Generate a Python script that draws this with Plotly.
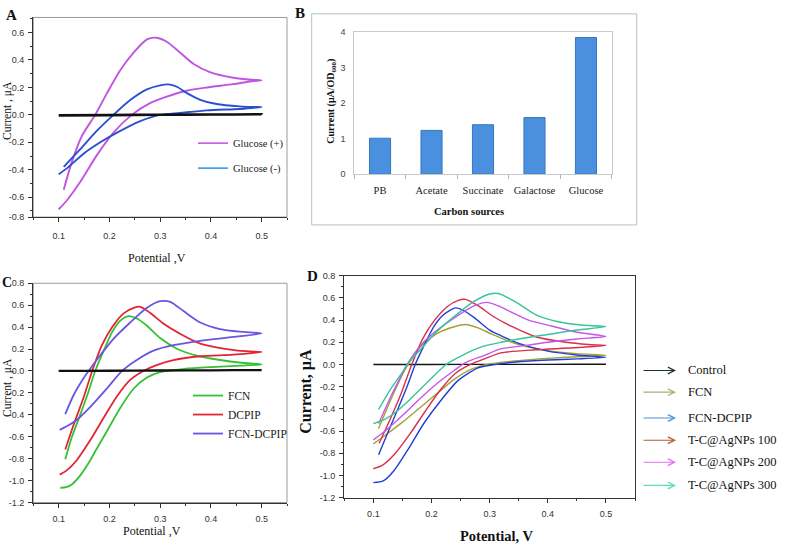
import plotly.graph_objects as go

W, H = 787, 551


def px(x):
    return x / W


def py(y):
    return 1 - y / H


SERIF = "Liberation Serif, Times New Roman, serif"
SANS = "Liberation Sans, Arial, sans-serif"

# ---------------- Panel A : CV, glucose (+) / (-) ----------------
A_GLU_POS_V = [0.110, 0.126, 0.146, 0.172, 0.195, 0.221, 0.248, 0.274, 0.293, 0.313, 0.339, 0.366,
               0.398, 0.444, 0.480, 0.500, 0.480, 0.444, 0.392, 0.352, 0.313, 0.280, 0.244, 0.208,
               0.175, 0.143, 0.116, 0.100]
A_GLU_POS_I = [-0.545, -0.343, -0.152, 0.000, 0.157, 0.324, 0.455, 0.550, 0.562, 0.533, 0.455, 0.371,
               0.312, 0.271, 0.256, 0.252, 0.245, 0.224, 0.200, 0.176, 0.133, 0.086, 0.000, -0.129,
               -0.295, -0.486, -0.624, -0.688]
A_GLU_NEG_V = [0.110, 0.143, 0.175, 0.208, 0.241, 0.274, 0.300, 0.316, 0.333, 0.352, 0.379, 0.411,
               0.457, 0.485, 0.500, 0.485, 0.457, 0.392, 0.339, 0.300, 0.261, 0.215, 0.182, 0.149,
               0.116, 0.100]
A_GLU_NEG_I = [-0.379, -0.248, -0.117, 0.000, 0.108, 0.186, 0.215, 0.222, 0.205, 0.160, 0.110, 0.079,
               0.062, 0.058, 0.057, 0.052, 0.043, 0.033, 0.014, 0.000, -0.045, -0.129, -0.200, -0.283,
               -0.390, -0.433]
A_CTRL_V = [0.10, 0.20, 0.30, 0.40, 0.50, 0.40, 0.30, 0.20, 0.10]
A_CTRL_I = [-0.004, -0.002, 0.000, 0.002, 0.004, 0.003, 0.001, -0.001, -0.003]
A_Y_TICKVALS = [-0.745, -0.6, -0.4, -0.2, 0.0, 0.2, 0.4, 0.6]
A_Y_TICKTEXT = ["-0.8", "-0.6", "-0.4", "-0.2", "0.0", "0.2", "0.4", "0.6"]

# ---------------- Panel B : bar chart ----------------
B_CATEGORIES = ["PB", "Acetate", "Succinate", "Galactose", "Glucose"]
B_VALUES = [1.01, 1.23, 1.39, 1.59, 3.84]

# ---------------- Panel C : CV, mediators ----------------
C_FCN_V = [0.113, 0.126, 0.143, 0.159, 0.172, 0.189, 0.205, 0.221, 0.238, 0.254, 0.274, 0.300, 0.333,
           0.372, 0.418, 0.460, 0.500, 0.460, 0.400, 0.350, 0.300, 0.274, 0.248, 0.221, 0.195, 0.175,
           0.159, 0.143, 0.126, 0.115, 0.103]
C_FCN_I = [-0.806, -0.603, -0.394, -0.185, 0.000, 0.188, 0.352, 0.457, 0.500, 0.478, 0.412, 0.300, 0.203,
           0.140, 0.100, 0.075, 0.060, 0.048, 0.035, 0.020, -0.010, -0.060, -0.160, -0.340, -0.550, -0.710,
           -0.840, -0.950, -1.035, -1.060, -1.066]
C_DCPIP_V = [0.113, 0.130, 0.149, 0.166, 0.185, 0.205, 0.228, 0.248, 0.261, 0.280, 0.307, 0.339, 0.379,
             0.431, 0.470, 0.500, 0.444, 0.379, 0.326, 0.293, 0.267, 0.241, 0.215, 0.189, 0.162, 0.136,
             0.116, 0.102]
C_DCPIP_I = [-0.716, -0.484, -0.245, 0.000, 0.233, 0.397, 0.525, 0.576, 0.585, 0.531, 0.430, 0.340, 0.250,
             0.200, 0.180, 0.173, 0.149, 0.134, 0.099, 0.054, 0.000, -0.081, -0.230, -0.424, -0.633, -0.812,
             -0.907, -0.946]
C_MIX_V = [0.113, 0.130, 0.149, 0.159, 0.182, 0.208, 0.241, 0.274, 0.300, 0.320, 0.346, 0.379, 0.418,
           0.457, 0.500, 0.444, 0.379, 0.326, 0.287, 0.254, 0.225, 0.195, 0.162, 0.136, 0.116, 0.102]
C_MIX_I = [-0.394, -0.215, -0.066, 0.000, 0.143, 0.293, 0.442, 0.576, 0.636, 0.630, 0.546, 0.442, 0.382,
           0.358, 0.343, 0.310, 0.275, 0.235, 0.185, 0.100, 0.000, -0.160, -0.330, -0.445, -0.505, -0.537]
C_CTRL_V = [0.10, 0.20, 0.30, 0.40, 0.50, 0.40, 0.30, 0.20, 0.10]
C_CTRL_I = [0.000, 0.002, 0.004, 0.006, 0.008, 0.006, 0.004, 0.002, 0.000]

# ---------------- Panel D : CV, AgNPs ----------------
D_CTRL_V = [0.10, 0.20, 0.30, 0.40, 0.50, 0.40, 0.30, 0.20, 0.10]
D_CTRL_I = [0.000, 0.000, 0.001, 0.001, 0.002, 0.001, 0.001, 0.000, 0.000]
D_FCN_V = [0.109, 0.129, 0.152, 0.160, 0.181, 0.210, 0.239, 0.259, 0.280, 0.303, 0.330, 0.360, 0.400,
           0.450, 0.500, 0.450, 0.400, 0.350, 0.300, 0.270, 0.240, 0.210, 0.180, 0.150, 0.120, 0.100]
D_FCN_I = [-0.577, -0.330, -0.070, 0.000, 0.160, 0.280, 0.340, 0.360, 0.330, 0.275, 0.215, 0.165, 0.125,
           0.098, 0.083, 0.070, 0.055, 0.035, 0.005, -0.040, -0.130, -0.260, -0.390, -0.520, -0.640, -0.716]
D_MIX_V = [0.109, 0.126, 0.143, 0.159, 0.172, 0.189, 0.205, 0.221, 0.241, 0.254, 0.274, 0.300, 0.319,
           0.350, 0.400, 0.450, 0.500, 0.450, 0.400, 0.350, 0.303, 0.280, 0.245, 0.216, 0.187, 0.158,
           0.135, 0.117, 0.100]
D_MIX_I = [-0.814, -0.600, -0.390, -0.185, 0.000, 0.190, 0.350, 0.450, 0.510, 0.490, 0.420, 0.310, 0.260,
           0.190, 0.120, 0.085, 0.065, 0.050, 0.040, 0.025, -0.006, -0.030, -0.148, -0.325, -0.530, -0.780,
           -0.960, -1.050, -1.065]
D_AG100_V = [0.110, 0.130, 0.149, 0.166, 0.185, 0.205, 0.228, 0.245, 0.258, 0.280, 0.307, 0.339, 0.379,
             0.431, 0.470, 0.500, 0.444, 0.379, 0.319, 0.293, 0.267, 0.241, 0.215, 0.189, 0.162, 0.136,
             0.116, 0.100]
D_AG100_I = [-0.710, -0.480, -0.245, 0.000, 0.233, 0.397, 0.525, 0.575, 0.587, 0.530, 0.430, 0.340, 0.250,
             0.200, 0.180, 0.172, 0.150, 0.132, 0.104, 0.054, 0.000, -0.081, -0.230, -0.424, -0.633, -0.812,
             -0.907, -0.940]
D_AG200_V = [0.109, 0.129, 0.152, 0.158, 0.181, 0.210, 0.245, 0.274, 0.295, 0.314, 0.338, 0.367, 0.400,
             0.450, 0.500, 0.450, 0.400, 0.360, 0.319, 0.290, 0.260, 0.240, 0.210, 0.180, 0.150, 0.120,
             0.100]
D_AG200_I = [-0.533, -0.300, -0.060, 0.000, 0.170, 0.310, 0.440, 0.530, 0.560, 0.530, 0.470, 0.400, 0.355,
             0.290, 0.252, 0.230, 0.200, 0.170, 0.140, 0.080, 0.020, -0.050, -0.170, -0.310, -0.460, -0.600,
             -0.680]
D_AG300_V = [0.109, 0.130, 0.150, 0.158, 0.182, 0.208, 0.241, 0.274, 0.300, 0.315, 0.346, 0.379, 0.418,
             0.457, 0.500, 0.450, 0.400, 0.350, 0.319, 0.287, 0.254, 0.225, 0.195, 0.162, 0.136, 0.116,
             0.100]
D_AG300_I = [-0.405, -0.220, -0.070, 0.000, 0.140, 0.290, 0.440, 0.570, 0.635, 0.640, 0.560, 0.450, 0.385,
             0.355, 0.341, 0.310, 0.270, 0.230, 0.200, 0.160, 0.085, 0.000, -0.150, -0.320, -0.440, -0.505,
             -0.533]
D_LEGEND_LABELS = ["Control", "FCN", "FCN-DCPIP", "T-C@AgNPs 100", "T-C@AgNPs 200", "T-C@AgNPs 300"]

CD_Y_TICKVALS = [-1.2, -1.0, -0.8, -0.6, -0.4, -0.2, 0.0, 0.2, 0.4, 0.6, 0.8]
CD_Y_TICKTEXT = [f"{v:.1f}" for v in CD_Y_TICKVALS]
CV_X_TICKVALS = [0.1, 0.2, 0.3, 0.4, 0.5]

fig = go.Figure()


def cv(x, y, name, color, xa, ya, width=1.7, legend=None, show=False):
    fig.add_trace(go.Scatter(
        x=x, y=y, mode="lines", name=name, xaxis=xa, yaxis=ya,
        line=dict(color=color, width=width, shape="spline", smoothing=0.7),
        showlegend=show, legend=legend, hoverinfo="skip"))


# A
cv(A_GLU_POS_V, A_GLU_POS_I, "Glucose (+)", "#c055e0", "x", "y", width=1.9)
cv(A_GLU_NEG_V, A_GLU_NEG_I, "Glucose (-)", "#2a50d0", "x", "y", width=1.9)
cv(A_CTRL_V, A_CTRL_I, "Control", "#111111", "x", "y", width=2.5)
# legend entries of panel A (lighter legend colours as in the figure)
for nm, col in [("Glucose (+)", "#cc66e0"), ("Glucose (-)", "#45a3ee")]:
    fig.add_trace(go.Scatter(x=[None], y=[None], mode="lines", name=nm, xaxis="x", yaxis="y",
                             line=dict(color=col, width=1.8), legend="legend", showlegend=True,
                             legendgroup=nm))

# B
fig.add_trace(go.Bar(x=B_CATEGORIES, y=B_VALUES, xaxis="x2", yaxis="y2", width=0.41,
                     marker=dict(color="#4a90df", line=dict(color="#3676c2", width=1)),
                     showlegend=False, hoverinfo="skip"))

# C
for x, y, nm, col in [(C_FCN_V, C_FCN_I, "FCN", "#35c035"),
                      (C_DCPIP_V, C_DCPIP_I, "DCPIP", "#e02535"),
                      (C_MIX_V, C_MIX_I, "FCN-DCPIP", "#6a55e2")]:
    fig.add_trace(go.Scatter(x=x, y=y, mode="lines", name=nm, xaxis="x3", yaxis="y3",
                             line=dict(color=col, width=1.8, shape="spline", smoothing=0.7),
                             legend="legend2", showlegend=True, legendgroup=nm, hoverinfo="skip"))
cv(C_CTRL_V, C_CTRL_I, "Control", "#111111", "x3", "y3", width=2.3)

# D
D_SERIES = [(D_CTRL_V, D_CTRL_I, "#151515"),
            (D_FCN_V, D_FCN_I, "#a3a132"),
            (D_MIX_V, D_MIX_I, "#1f3fd6"),
            (D_AG100_V, D_AG100_I, "#d8304a"),
            (D_AG200_V, D_AG200_I, "#c455ee"),
            (D_AG300_V, D_AG300_I, "#36c49a")]
for (x, y, col), nm in zip(D_SERIES, D_LEGEND_LABELS):
    cv(x, y, nm, col, "x4", "y4", width=1.4)

# ---------------- axes ----------------
tickfont = dict(family=SANS, size=9, color="#333")


def cv_xaxis(domain, anchor, standoff):
    return dict(domain=domain, anchor=anchor, range=[0.05, 0.55], tickvals=CV_X_TICKVALS,
                ticktext=[f"{v:.1f}" for v in CV_X_TICKVALS],
                ticks="outside", ticklen=4, tickwidth=1, tickcolor="#333",
                minor=dict(ticks="outside", ticklen=2, tickwidth=1, tickcolor="#333", dtick=0.05,
                           tick0=0.05, showgrid=False),
                showline=True, linecolor="#333", linewidth=1.4, showgrid=False, zeroline=False,
                tickfont=tickfont, ticklabelstandoff=standoff, fixedrange=True)


def cv_yaxis(domain, anchor, rng, tv, tt):
    return dict(domain=domain, anchor=anchor, range=rng, tickvals=tv, ticktext=tt,
                ticks="outside", ticklen=4, tickwidth=1, tickcolor="#333",
                minor=dict(ticks="outside", ticklen=2, tickwidth=1, tickcolor="#333", dtick=0.1,
                           tick0=0, showgrid=False),
                showline=True, linecolor="#333", linewidth=1.4, showgrid=False, zeroline=False,
                tickfont=tickfont, ticklabelstandoff=2, fixedrange=True)


A_X = [px(33.3), px(287)]
A_Y = [py(216), py(12.7)]
C_X = [px(33.3), px(287)]
C_Y = [py(506.7), py(283.4)]
D_X = [px(344.3), px(635)]
D_Y = [py(501.7), py(275.7)]
B_X = [px(354.3), px(611.7)]
B_Y = [py(172.3), py(27.3)]

layout = dict(
    width=W, height=H, margin=dict(l=0, r=0, t=0, b=0),
    paper_bgcolor="white", plot_bgcolor="white",
    xaxis=cv_xaxis(A_X, "y", 6),
    yaxis=cv_yaxis(A_Y, "x", [-0.745, 0.71], A_Y_TICKVALS, A_Y_TICKTEXT),
    xaxis3=cv_xaxis(C_X, "y3", 3),
    yaxis3=cv_yaxis(C_Y, "x3", [-1.2, 0.8], CD_Y_TICKVALS, CD_Y_TICKTEXT),
    xaxis4=cv_xaxis(D_X, "y4", 3),
    yaxis4=cv_yaxis(D_Y, "x4", [-1.2, 0.8], CD_Y_TICKVALS, CD_Y_TICKTEXT),
    xaxis2=dict(domain=B_X, anchor="y2", type="category", showline=True, linecolor="#c3cbcb",
                linewidth=1, mirror=True, ticks="outside", tickson="boundaries", ticklen=4,
                tickcolor="#b0b8b8", tickfont=dict(family=SERIF, size=10.5, color="#222"),
                ticklabelstandoff=6, fixedrange=True),
    yaxis2=dict(domain=B_Y, anchor="x2", range=[0, 4], dtick=1, showline=True, linecolor="#c3cbcb",
                linewidth=1, mirror=True, ticks="", showgrid=False, zeroline=False,
                tickfont=dict(family=SANS, size=9, color="#444"), ticklabelstandoff=6,
                fixedrange=True),
    legend=dict(x=px(193), y=py(126), xanchor="left", yanchor="top", bgcolor="rgba(0,0,0,0)",
                font=dict(family=SERIF, size=10.5, color="#222"), tracegroupgap=6,
                itemclick=False, itemdoubleclick=False),
    legend2=dict(x=px(188), y=py(383), xanchor="left", yanchor="top", bgcolor="rgba(0,0,0,0)",
                 font=dict(family=SERIF, size=11.5, color="#222"), tracegroupgap=0,
                 itemclick=False, itemdoubleclick=False),
    bargap=0.6,
    showlegend=True,
)
fig.update_layout(**layout)
fig.update_layout(xaxis4=dict(mirror=True), yaxis4=dict(mirror=True))

# grey frames on panels A and C, outer frame of panel B
shapes = []
for xr, yr in [("x", "y"), ("x3", "y3")]:
    shapes.append(dict(type="rect", xref=f"{xr} domain", yref=f"{yr} domain", x0=0, x1=1, y0=0, y1=1,
                       line=dict(color="#9a9a9a", width=1), layer="below"))
shapes.append(dict(type="rect", xref="paper", yref="paper", x0=px(311.7), x1=px(636.7), y0=py(224),
                   y1=py(9), line=dict(color="#b5c0c0", width=1), layer="below"))
fig.update_layout(shapes=shapes)

ann = []


def text(x, y, s, size, family=SERIF, bold=False, angle=0, color="#111", xanchor="center"):
    ann.append(dict(x=px(x), y=py(y), xref="paper", yref="paper", text=f"<b>{s}</b>" if bold else s,
                    showarrow=False, textangle=angle, xanchor=xanchor, yanchor="middle",
                    font=dict(family=family, size=size, color=color)))


# panel letters
text(11, 10, "A", 15, bold=True)
text(300, 8, "B", 15, bold=True)
text(7, 283, "C", 14, bold=True)
text(312, 276, "D", 15, bold=True)
# axis titles
text(157, 258, "Potential ,V", 12)
text(7, 108, "Current , μA", 11.5, angle=-90)
text(152, 536, "Potential ,V", 12)
text(8, 390, "Current , μA", 11.5, angle=-90)
text(497, 541, "Potential, V", 14.5, bold=True)
text(306, 394, "Current, μA", 16, bold=True, angle=-90)
text(469, 210, "Carbon sources", 10.5, bold=True)
text(331.5, 98, "Current (μA/OD<sub>600</sub>)", 10, bold=True, angle=-90)

# panel D legend: arrows + labels
D_ARROW_COLORS = ["#1d3535", "#a8b070", "#4a92d8", "#b45a3c", "#e070f0", "#60dcae"]
D_ROWS_Y = [372.3, 394.3, 420.7, 443.3, 465.7, 489.3]
for lab, col, yy in zip(D_LEGEND_LABELS, D_ARROW_COLORS, D_ROWS_Y):
    ann.append(dict(x=px(676), y=py(yy), xref="paper", yref="paper", text="", showarrow=True,
                    ax=-34, ay=0, arrowhead=5, arrowsize=1.2, arrowwidth=1.1, arrowcolor=col))
    text(686, yy - 0.5, lab, 12.5, xanchor="left")

fig.update_layout(annotations=ann)

# the page's default body margin would shift the figure by 8 px
fig.write_html("out.html", config={"displayModeBar": False},
               post_script="document.body.style.margin='0px';")
